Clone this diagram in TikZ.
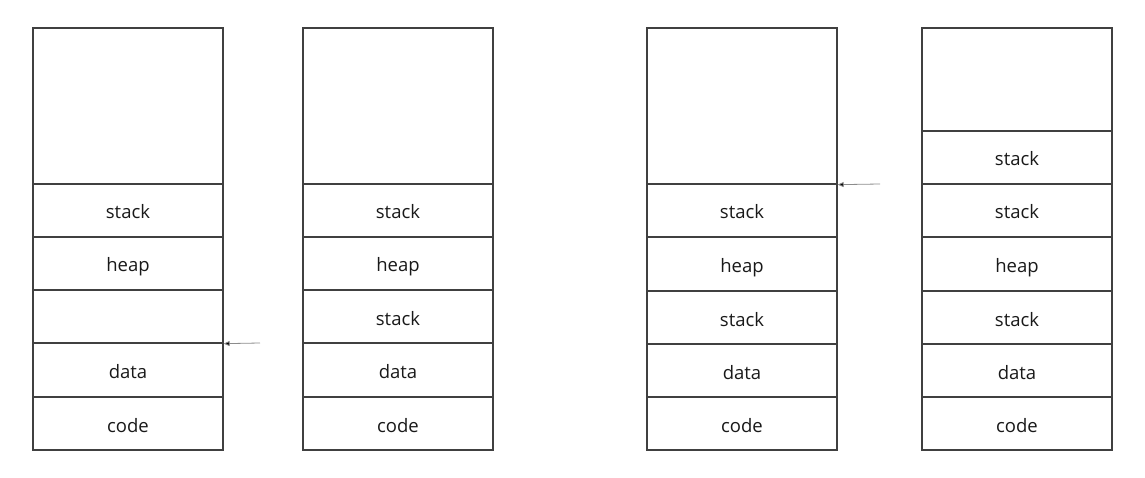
\documentclass[tikz,border=0pt]{standalone}
\usepackage{fontspec}
\setmainfont{Open Sans}
\usetikzlibrary{arrows.meta}
\begin{document}
\begin{tikzpicture}[x=1pt,y=-1pt,
  cell/.style={draw=black!75, line width=1.3pt, minimum width=190pt, inner sep=0pt, text height=19pt, text depth=2pt, font=\fontsize{18.5}{20}\selectfont, text=black!90},
  ptr/.style={draw=black!45, line width=0.8pt, -{Triangle[length=6pt,width=5pt,fill=black]}}]
\useasboundingbox (0,0) rectangle (1145,478);
% column 1
\node[cell, minimum height=156pt] (a0) at (128,106) {};
\node[cell, minimum height=53pt] (a1) at (128,210.5) {stack};
\node[cell, minimum height=53pt] (a2) at (128,263.5) {heap};
\node[cell, minimum height=53pt] (a3) at (128,316.5) {};
\node[cell, minimum height=53pt] (a4) at (128,370) {data};
\node[cell, minimum height=53pt] (a5) at (128,423.5) {code};
% column 2
\node[cell, minimum height=156pt] (b0) at (398,106) {};
\node[cell, minimum height=53pt] (b1) at (398,210.5) {stack};
\node[cell, minimum height=53pt] (b2) at (398,263.5) {heap};
\node[cell, minimum height=53pt] (b3) at (398,316.5) {stack};
\node[cell, minimum height=53pt] (b4) at (398,370) {data};
\node[cell, minimum height=53pt] (b5) at (398,423.5) {code};
% column 3
\node[cell, minimum height=156pt] (c0) at (742,106) {};
\node[cell, minimum height=53pt] (c1) at (742,210.5) {stack};
\node[cell, minimum height=53pt] (c2) at (742,264) {heap};
\node[cell, minimum height=53pt] (c3) at (742,317.5) {stack};
\node[cell, minimum height=53pt] (c4) at (742,370.5) {data};
\node[cell, minimum height=53pt] (c5) at (742,423.5) {code};
% column 4
\node[cell, minimum height=103pt] (d0) at (1017,79.5) {};
\node[cell, minimum height=53pt] (d1) at (1017,157.5) {stack};
\node[cell, minimum height=53pt] (d2) at (1017,210.5) {stack};
\node[cell, minimum height=53pt] (d3) at (1017,264) {heap};
\node[cell, minimum height=53pt] (d4) at (1017,317.5) {stack};
\node[cell, minimum height=53pt] (d5) at (1017,370.5) {data};
\node[cell, minimum height=53pt] (d6) at (1017,423.5) {code};
% pointers
\coordinate (p1) at (260,343);
\coordinate (p2) at (880,184);
\draw[ptr] (p1) -- (a3.south east);
\draw[ptr] (p2) -- (c0.south east);
\end{tikzpicture}
\end{document}
